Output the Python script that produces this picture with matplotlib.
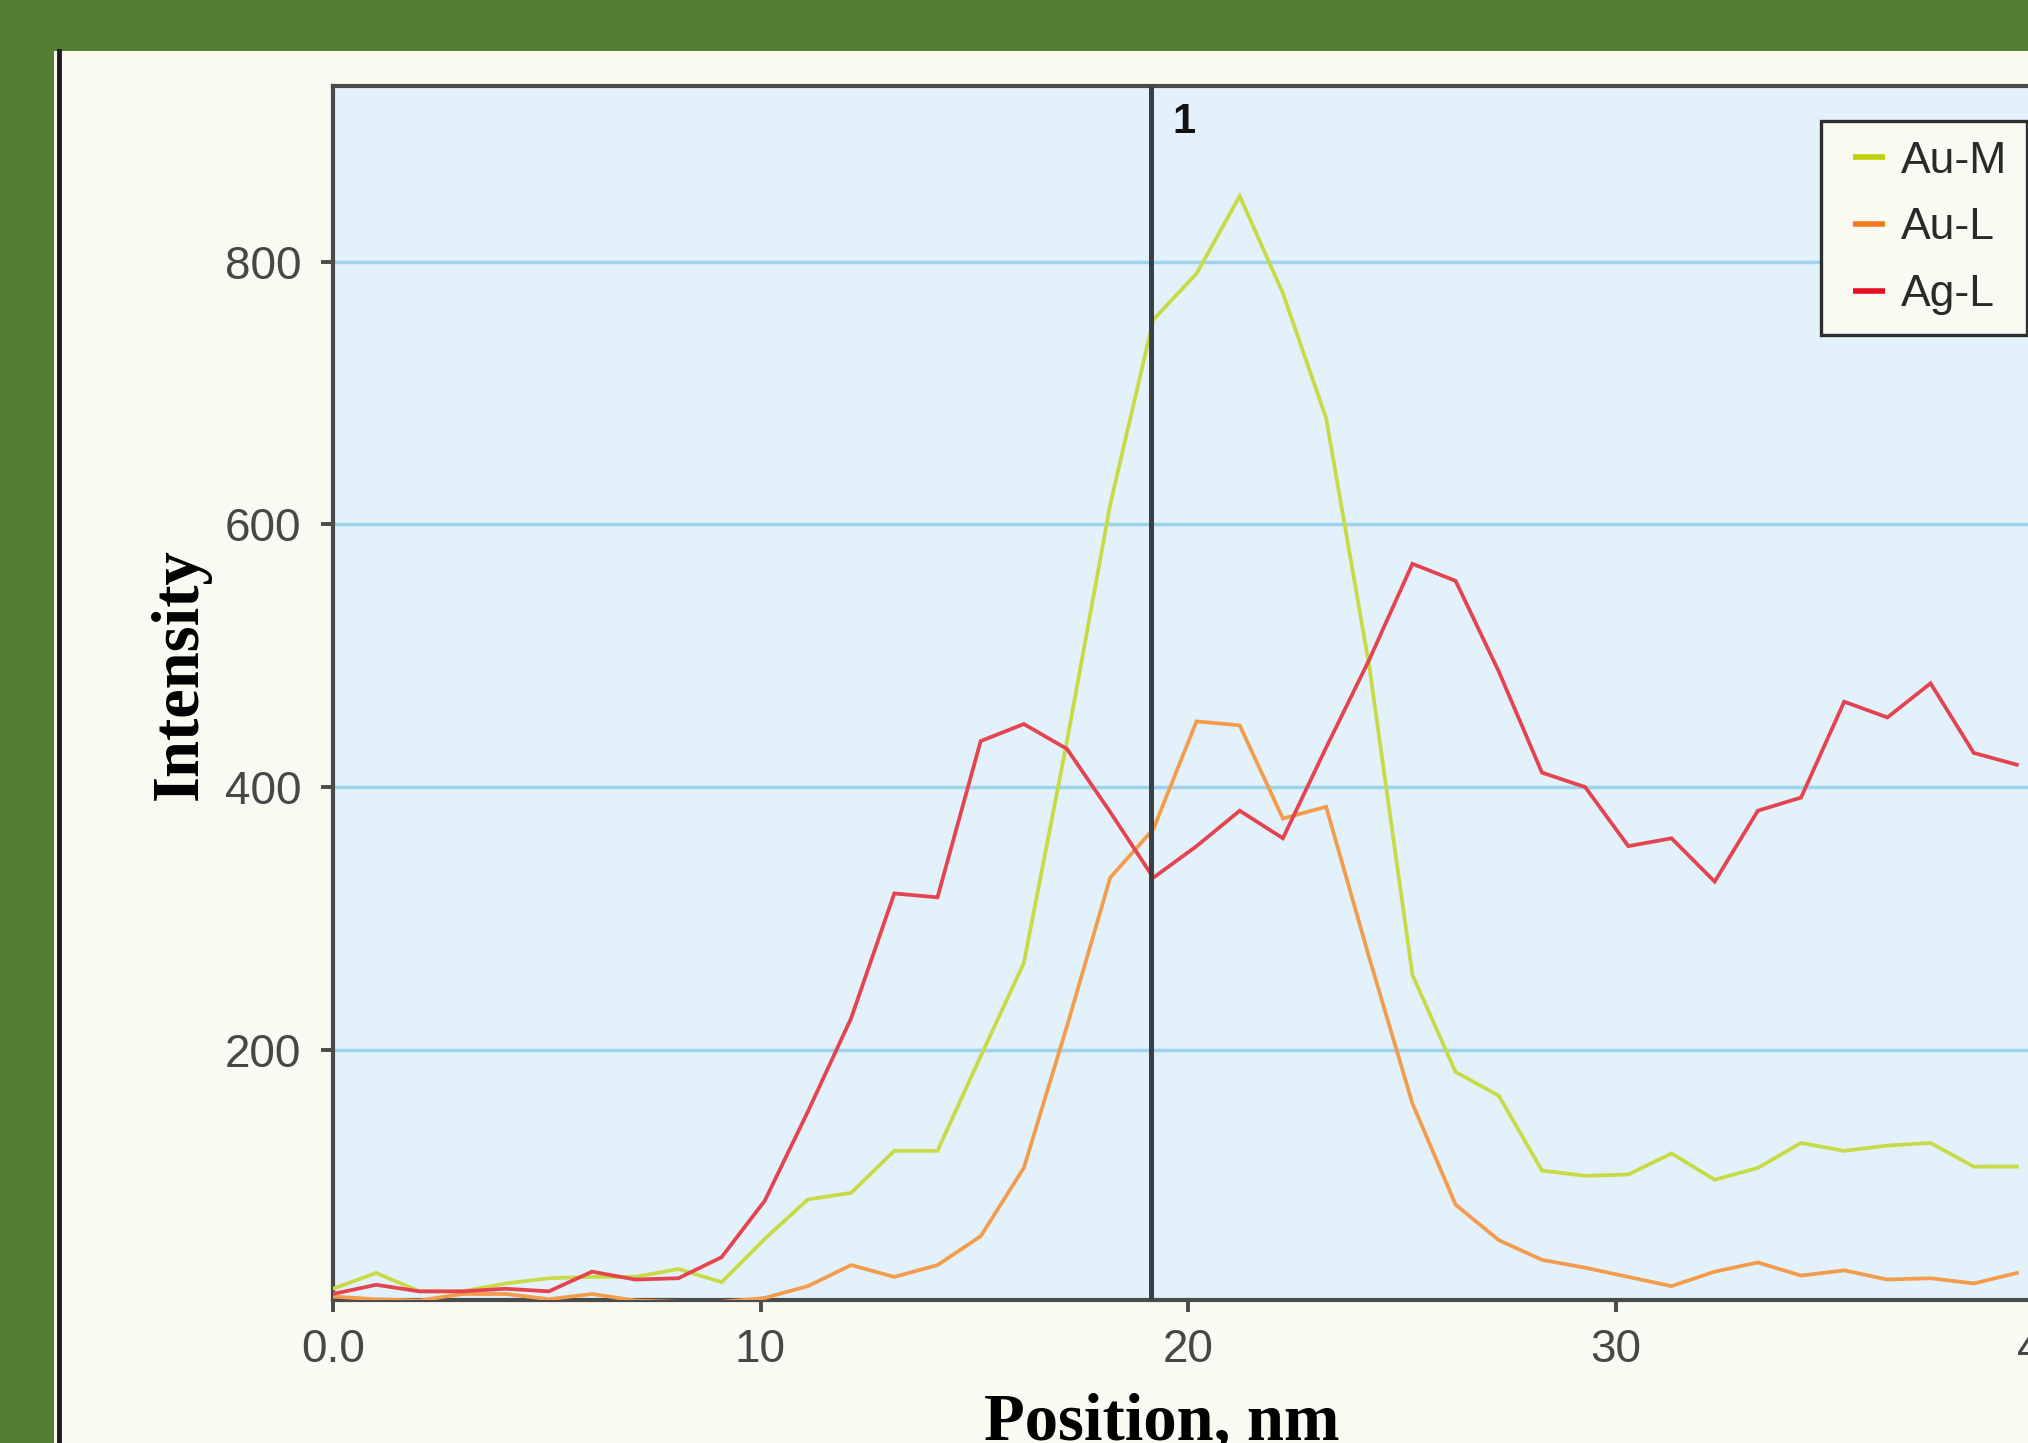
import numpy as np
import matplotlib
matplotlib.use("Agg")
import matplotlib.pyplot as plt
from matplotlib.lines import Line2D
from matplotlib.patches import Rectangle
from matplotlib.legend_handler import HandlerLine2D

# ---------------- data ----------------
positions = [0.00, 1.01, 2.02, 3.03, 4.04, 5.05, 6.06, 7.07, 8.08, 9.09,
             10.10, 11.11, 12.12, 13.13, 14.14, 15.15, 16.16, 17.17, 18.18, 19.19,
             20.20, 21.21, 22.22, 23.23, 24.24, 25.25, 26.26, 27.27, 28.28, 29.29,
             30.30, 31.31, 32.32, 33.33, 34.34, 35.35, 36.36, 37.37, 38.38, 39.39]

au_m = [18, 30, 16, 16, 22, 26, 27, 27, 33, 23,
        56, 86, 91, 123, 123, 195, 266, 435, 615, 756,
        791, 850, 776, 681, 492, 257, 183, 165, 108, 104,
        105, 121, 101, 110, 129, 123, 127, 129, 111, 111]

au_l = [12, 10, 9, 14, 14, 10, 14, 9, 8, 8,
        11, 20, 36, 27, 36, 58, 110, 218, 331, 368,
        450, 447, 376, 385, 270, 159, 82, 55, 40, 34,
        27, 20, 31, 38, 28, 32, 25, 26, 22, 30]

ag_l = [14, 21, 16, 16, 18, 16, 31, 25, 26, 42,
        85, 153, 224, 319, 316, 435, 448, 429, 381, 331,
        355, 382, 361, 430, 497, 570, 557, 488, 411, 400,
        355, 361, 328, 382, 392, 465, 453, 479, 426, 417]

series_names = ["Au-M", "Au-L", "Ag-L"]
x_ticks = [0, 10, 20, 30, 40]
x_tick_labels = ["0.0", "10", "20", "30", "40"]
y_ticks = [200, 400, 600, 800]
y_tick_labels = ["200", "400", "600", "800"]
marker_position = 19.13
marker_label = "1"
x_label = "Position, nm"
y_label = "Intensity"

# ---------------- style ----------------
W, H = 2028, 1443
line_colors = ["#C6DB45", "#F39C4C", "#E4434F"]
handle_colors = ["#C0D000", "#F07A1A", "#E81020"]
narrow = ["Liberation Sans Narrow", "Liberation Sans", "DejaVu Sans"]

fig = plt.figure(figsize=(W / 100, H / 100), dpi=100, facecolor="#537F34")

# white panel and its dark left edge
fig.patches.append(Rectangle((53.5 / W, 0), 1, (H - 50.7) / H, transform=fig.transFigure,
                             facecolor="#FAFAF3", edgecolor="none", zorder=-5))
fig.lines.append(Line2D([58.5 / W, 58.5 / W], [0, (H - 50.7) / H], transform=fig.transFigure,
                        color="#1C1C1C", lw=3.5, zorder=-4))

ax = fig.add_axes([333 / W, (H - 1299.5) / H, 42 * 42.75 / W, (1299.5 - 86.3) / H])
ax.set_zorder(1)
ax.set_facecolor("#E2F1FA")
ax.set_xlim(0, 42)
ax.set_ylim(9.8, 933.6)

for yv in y_ticks:
    ax.axhline(yv, color="#9FD2EC", lw=2.5, zorder=1)

for vals, c in zip([au_m, au_l, ag_l], line_colors):
    ax.plot(positions, vals, color=c, lw=2.7, zorder=3, solid_joinstyle="miter")

ax.axvline(marker_position, color="#3C4044", lw=3.6, zorder=4)
ax.text(marker_position + 0.5, 922, marker_label, ha="left", va="top",
        fontsize=30, fontweight="bold", family=["Liberation Sans", "DejaVu Sans"],
        color="#111111", zorder=5)

for s in ax.spines.values():
    s.set_color("#4B4B4B")
    s.set_linewidth(3.0)
ax.spines["right"].set_visible(False)

ax.set_xticks(x_ticks)
ax.set_xticklabels(x_tick_labels)
ax.set_yticks(y_ticks)
ax.set_yticklabels(y_tick_labels)
ax.tick_params(axis="both", direction="out", length=8.6, width=2.8, color="#4B4B4B",
               labelsize=33, labelcolor="#474747")
ax.tick_params(axis="y", pad=14)
ax.tick_params(axis="x", pad=12)
for lab in ax.get_xticklabels() + ax.get_yticklabels():
    lab.set_family(narrow)

fig.text(197 / W, (H - 674) / H, y_label, rotation=90, rotation_mode="anchor",
         ha="center", va="baseline", fontsize=48, fontweight="bold",
         family=["Liberation Serif", "DejaVu Serif"], color="black")
fig.text(1161.5 / W, 4 / H, x_label, ha="center", va="baseline", fontsize=48,
         fontweight="bold", family=["Liberation Serif", "DejaVu Serif"], color="black")


class PadHandler(HandlerLine2D):
    def get_xdata(self, legend, xdescent, ydescent, width, height, fontsize):
        x0 = -xdescent + 0.28 * width
        x1 = -xdescent + width
        return np.array([x0, x1]), np.array([x0, x1])


handles = [Line2D([], [], color=c, lw=4.0, solid_capstyle="butt") for c in handle_colors]
leg = fig.legend(handles, series_names, loc="upper left",
                 bbox_to_anchor=(1820.7 / W, (H - 121) / H), bbox_transform=fig.transFigure,
                 borderaxespad=0, borderpad=0.44, labelspacing=0.58, handlelength=1.0,
                 handletextpad=0.36, fancybox=False, framealpha=1, facecolor="#FAFAF3",
                 edgecolor="#2E2E2E", prop={"family": narrow, "size": 32},
                 handler_map={Line2D: PadHandler()})
leg.get_frame().set_linewidth(2.4)
leg.set_zorder(10)
for t in leg.get_texts():
    t.set_color("#2A2A2A")

fig.savefig("out.png", dpi=100, facecolor=fig.get_facecolor())
